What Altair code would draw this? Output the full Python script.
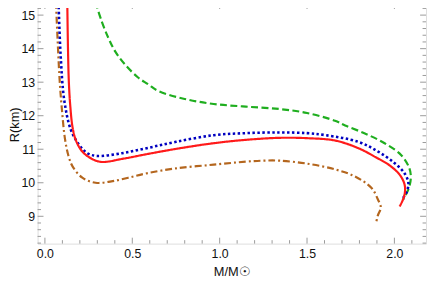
import altair as alt
import pandas as pd

# ---- data ----
red_M = [0.128, 0.132, 0.137, 0.145, 0.158, 0.177, 0.214, 0.27, 0.325, 0.45, 0.59, 0.75, 0.966, 1.15, 1.342, 1.5, 1.66, 1.79, 1.887, 1.98, 2.037, 2.06, 2.056, 2.03]
red_R = [15.39, 14.0, 13.0, 12.3, 11.66, 11.27, 10.93, 10.71, 10.62, 10.72, 10.86, 11.01, 11.18, 11.28, 11.34, 11.33, 11.26, 11.04, 10.78, 10.49, 10.19, 9.9, 9.6, 9.29]

blue_M = [0.078, 0.09, 0.111, 0.149, 0.196, 0.243, 0.30, 0.44, 0.59, 0.75, 0.966, 1.15, 1.342, 1.5, 1.605, 1.794, 1.907, 2.0, 2.057, 2.08, 2.072, 2.045]
blue_R = [15.39, 13.8, 12.45, 11.57, 11.13, 10.88, 10.80, 10.88, 11.04, 11.22, 11.42, 11.48, 11.5, 11.48, 11.42, 11.22, 10.93, 10.59, 10.29, 10.0, 9.75, 9.51]

green_M = [0.289, 0.326, 0.364, 0.402, 0.458, 0.533, 0.59, 0.647, 0.8, 0.966, 1.15, 1.342, 1.5, 1.66, 1.718, 1.831, 1.944, 2.038, 2.085, 2.094, 2.08, 2.05]
green_R = [15.39, 14.8, 14.31, 13.92, 13.53, 13.14, 12.94, 12.74, 12.5, 12.35, 12.27, 12.2, 12.08, 11.85, 11.71, 11.47, 11.18, 10.83, 10.44, 10.15, 9.8, 9.5]

brown_M = [0.063, 0.075, 0.085, 0.097, 0.115, 0.135, 0.158, 0.214, 0.29, 0.38, 0.477, 0.59, 0.75, 0.966, 1.15, 1.25, 1.342, 1.5, 1.66, 1.774, 1.868, 1.905, 1.922, 1.905, 1.895]
brown_R = [15.39, 14.0, 13.0, 12.2, 11.3, 10.8, 10.49, 10.15, 10.0, 10.04, 10.15, 10.29, 10.43, 10.54, 10.63, 10.66, 10.66, 10.57, 10.4, 10.19, 9.85, 9.51, 9.26, 9.02, 8.8]

x_major = [0.0, 0.5, 1.0, 1.5, 2.0]
x_minor = [0.1, 0.2, 0.3, 0.4, 0.6, 0.7, 0.8, 0.9, 1.1, 1.2, 1.3, 1.4, 1.6, 1.7, 1.8, 1.9, 2.1]
y_major = [9, 10, 11, 12, 13, 14, 15]
y_minor = [8.2, 8.4, 8.6, 8.8, 9.2, 9.4, 9.6, 9.8, 10.2, 10.4, 10.6, 10.8, 11.2, 11.4, 11.6, 11.8,
           12.2, 12.4, 12.6, 12.8, 13.2, 13.4, 13.6, 13.8, 14.2, 14.4, 14.6, 14.8, 15.2]

x_domain = [-0.042, 2.181]
y_domain = [8.185, 15.36]

W, H = 394, 244
FONT = "Liberation Sans"
GRAY = "#9a9a9a"

series = [
    ("brown", brown_M, brown_R, "#b4661e", [7, 3, 2, 3], 2.2),
    ("green", green_M, green_R, "#1fae1f", [7, 3.5], 2.2),
    ("blue", blue_M, blue_R, "#0000c0", [2.5, 2.5], 2.6),
    ("red", red_M, red_R, "#ff1a1a", [1, 0], 2.2),
]

xs = alt.Scale(domain=x_domain, nice=False, zero=False)
ys = alt.Scale(domain=y_domain, nice=False, zero=False)

x_axis = alt.Axis(values=x_major, format=".1f", ticks=False, domain=False, grid=False,
                  labelFontSize=12.5, labelFont=FONT, labelColor="#111", labelPadding=4,
                  title="M/M☉", titleFont=FONT, titleFontSize=13, titleFontWeight="normal",
                  titleColor="#111", titleY=28, titleBaseline="middle")
y_axis = alt.Axis(values=y_major, format="d", ticks=False, domain=False, grid=False,
                  labelFontSize=12.5, labelFont=FONT, labelColor="#111", labelPadding=3,
                  title="R(km)", titleFont=FONT, titleFontSize=13, titleFontWeight="normal",
                  titleColor="#111", titleX=-29.5, titleY=H / 2 + 1, titleBaseline="top",
                  titleAngle=270)

layers = []
for name, M, R, col, dash, sw in series:
    df = pd.DataFrame({"M": M, "R": R, "i": list(range(len(M)))})
    layers.append(
        alt.Chart(df).mark_line(color=col, strokeDash=dash, strokeWidth=sw, clip=True,
                                interpolate="catmull-rom").encode(
            x=alt.X("M:Q", scale=xs, axis=x_axis),
            y=alt.Y("R:Q", scale=ys, axis=y_axis),
            order="i:Q",
        )
    )

def xticks(vals, length):
    df = pd.DataFrame({"v": vals})
    b = alt.Chart(df).mark_rule(color=GRAY, strokeWidth=1).encode(
        x=alt.X("v:Q", scale=xs, axis=x_axis), y=alt.value(H), y2=alt.value(H - length))
    t = alt.Chart(df).mark_rule(color=GRAY, strokeWidth=1).encode(
        x=alt.X("v:Q", scale=xs, axis=x_axis), y=alt.value(0), y2=alt.value(length))
    return [b, t]

def yticks(vals, length):
    df = pd.DataFrame({"v": vals})
    l = alt.Chart(df).mark_rule(color=GRAY, strokeWidth=1).encode(
        y=alt.Y("v:Q", scale=ys, axis=y_axis), x=alt.value(0), x2=alt.value(length))
    r = alt.Chart(df).mark_rule(color=GRAY, strokeWidth=1).encode(
        y=alt.Y("v:Q", scale=ys, axis=y_axis), x=alt.value(W), x2=alt.value(W - length))
    return [l, r]

tick_layers = xticks(x_major, 6) + xticks(x_minor, 3.5) + yticks(y_major, 6) + yticks(y_minor, 3.5)

chart = alt.layer(*tick_layers, *layers).properties(
    width=W, height=H,
    autosize=alt.AutoSizeParams(type="none"),
    padding={"left": 30, "top": -7, "right": 2, "bottom": 40},
).configure_view(stroke=GRAY, strokeWidth=1).configure(background="white")

chart.save("out.html", embed_options={"renderer": "svg", "actions": False})
